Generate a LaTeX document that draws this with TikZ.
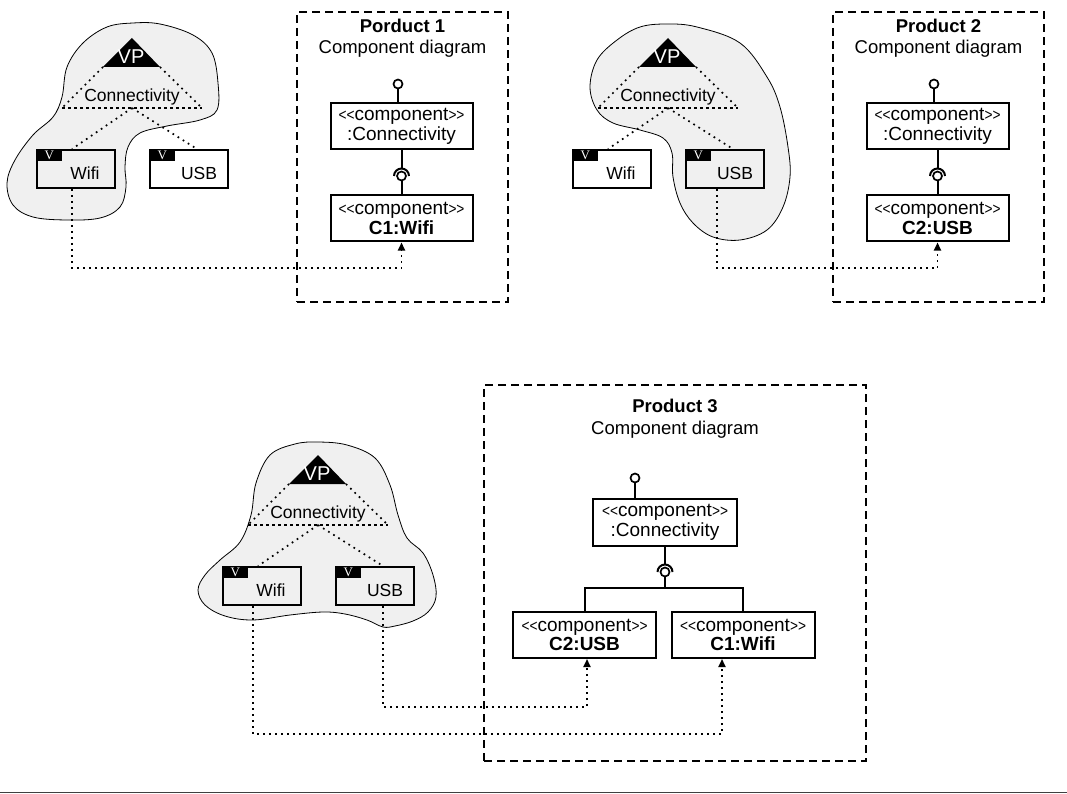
\documentclass[tikz,border=0pt]{standalone}
\usepackage{fontspec}
\setmainfont{Liberation Sans}
\newfontfamily\tagfont{Liberation Serif}
\usepackage{xcolor}
\usepackage{tikz}
\usetikzlibrary{arrows.meta, positioning}
\definecolor{blobgray}{HTML}{F0F0F0}
\newcommand{\stereo}[1]{\scalebox{0.72}[0.85]{<{}<}#1\scalebox{0.72}[0.85]{>{}>}}

\begin{document}
\begin{tikzpicture}[
  x=1pt, y=-1pt,
  pframe/.style = {draw, dash pattern=on 8pt off 5pt, line width=2pt, inner sep=0pt},
  ptitle/.style = {font=\fontsize{18.5}{20}\selectfont\bfseries},
  psub/.style = {font=\fontsize{18.5}{20}\selectfont},
  comp/.style = {
    draw, fill=white, line width=2pt, inner sep=0pt, align=center,
    minimum width=142pt, minimum height=46pt,
    font=\fontsize{19}{19.5}\selectfont
  },
  ballnode/.style = {circle, draw, fill=white, line width=1.7pt, inner sep=0pt, minimum size=9pt},
  wire/.style = {line width=2pt},
  blob/.style = {draw, fill=blobgray, line width=0.8pt},
  feat/.style = {draw, line width=2pt, inner sep=0pt, minimum width=78pt, minimum height=38pt},
  ftxt/.style = {font=\fontsize{17.5}{18}\selectfont},
  vtag/.style = {
    fill=black, text=white, inner sep=0pt, anchor=north west,
    minimum width=26pt, minimum height=12pt,
    font=\tagfont\fontsize{13}{13}\selectfont
  },
  vptxt/.style = {text=white, font=\fontsize{20}{20}\selectfont},
  fdot/.style = {line width=1.7pt, dash pattern=on 1.7pt off 4.3pt},
  fdash/.style = {line width=1.3pt, dash pattern=on 3pt off 3pt},
  dep/.style = {line width=1.8pt, dash pattern=on 1.8pt off 4.2pt, -{Triangle[length=8pt,width=7pt]}}
]
  \useasboundingbox (0,0) rectangle (1067,794);

  % variability models
  \draw[blob] plot[smooth cycle, tension=0.6] coordinates {
    (133,23) (160,24) (193,35) (212,53) (218,83) (217,110) (200,120)
    (167,126) (140,133) (128,147) (125,167) (126,187) (120,207) (100,218)
    (67,220) (33,217) (13,205) (7,183) (15,160) (33,135) (53,117)
    (62,97) (67,67) (83,43) (107,27)};
  \draw[blob] plot[smooth cycle, tension=0.6] coordinates {
    (667,24) (697,27) (740,43) (767,77) (780,107) (788,147) (790,177)
    (783,207) (767,230) (740,240) (713,237) (693,223) (680,203) (673,177)
    (672,153) (663,138) (640,130) (613,123) (597,110) (590,87) (597,60)
    (617,40) (640,27)};
  \draw[blob] plot[smooth cycle, tension=0.6] coordinates {
    (318,442) (347,445) (375,458) (390,485) (398,515) (407,538) (423,553)
    (433,575) (436,597) (428,612) (413,621) (395,626) (383,627) (367,620)
    (345,614) (323,612) (290,615) (253,620) (225,616) (205,605) (198,590)
    (205,575) (220,560) (240,542) (251,515) (256,483) (270,455) (295,444)};

  \begin{scope}
    \fill (132,38) -- (103,67) -- (160,67) -- cycle;
    \node[vptxt] (vp1) at (131,57) {VP};
    \node[ftxt] (cn1) at (132,97) {Connectivity};
    \draw[fdot] (103,67) -- (62,108);
    \draw[fdot] (160,67) -- (202,108);
    \draw[fdash] (62,108) -- (202,108);
    \coordinate (fb1) at (132,108);
    \node[feat] (w1) at (76,169) {};
    \node[vtag] (wv1) at (w1.north west) {V};
    \node[ftxt] (wt1) at ([xshift=9pt,yshift=-4pt]w1.center) {Wifi};
    \node[feat] (u1) at (189,169) {};
    \node[vtag] (uv1) at (u1.north west) {V};
    \node[ftxt] (ut1) at ([xshift=10pt,yshift=-4pt]u1.center) {USB};
    \draw[fdot] (fb1) -- ([xshift=-4pt]w1.north);
    \draw[fdot] (fb1) -- ([xshift=8pt]u1.north);
  \end{scope}

  \begin{scope}[shift={(536,0)}]
    \fill (132,38) -- (103,67) -- (160,67) -- cycle;
    \node[vptxt] (vp2) at (131,57) {VP};
    \node[ftxt] (cn2) at (132,97) {Connectivity};
    \draw[fdot] (103,67) -- (62,108);
    \draw[fdot] (160,67) -- (202,108);
    \draw[fdash] (62,108) -- (202,108);
    \coordinate (fb2) at (132,108);
    \node[feat] (w2) at (76,169) {};
    \node[vtag] (wv2) at (w2.north west) {V};
    \node[ftxt] (wt2) at ([xshift=9pt,yshift=-4pt]w2.center) {Wifi};
    \node[feat] (u2) at (189,169) {};
    \node[vtag] (uv2) at (u2.north west) {V};
    \node[ftxt] (ut2) at ([xshift=10pt,yshift=-4pt]u2.center) {USB};
    \draw[fdot] (fb2) -- ([xshift=-4pt]w2.north);
    \draw[fdot] (fb2) -- ([xshift=8pt]u2.north);
  \end{scope}

  \begin{scope}[shift={(186,417)}]
    \fill (132,38) -- (103,67) -- (160,67) -- cycle;
    \node[vptxt] (vp3) at (131,57) {VP};
    \node[ftxt] (cn3) at (132,97) {Connectivity};
    \draw[fdot] (103,67) -- (62,108);
    \draw[fdot] (160,67) -- (202,108);
    \draw[fdash] (62,108) -- (202,108);
    \coordinate (fb3) at (132,108);
    \node[feat] (w3) at (76,169) {};
    \node[vtag] (wv3) at (w3.north west) {V};
    \node[ftxt] (wt3) at ([xshift=9pt,yshift=-4pt]w3.center) {Wifi};
    \node[feat] (u3) at (189,169) {};
    \node[vtag] (uv3) at (u3.north west) {V};
    \node[ftxt] (ut3) at ([xshift=10pt,yshift=-4pt]u3.center) {USB};
    \draw[fdot] (fb3) -- ([xshift=-4pt]w3.north);
    \draw[fdot] (fb3) -- ([xshift=8pt]u3.north);
  \end{scope}

  % product 1
  \node[pframe, minimum width=211pt, minimum height=290pt] (f1) at (402.5,157) {};
  \node[ptitle] (t1) at (402.5,26) {Porduct 1};
  \node[psub] (s1) at (402.5,49) {Component diagram};
  \node[comp] (k1) at (401.5,126.5) {\stereo{component}\\:Connectivity};
  \node[comp] (c1) at (401.5,218.5) {\stereo{component}\\\textbf{C1:Wifi}};
  \node[ballnode] (b1) at (398,84) {};
  \node[ballnode] (q1) at (401.5,176) {};
  \draw[wire] (b1) -- (b1 |- k1.north);
  \draw[wire] (k1.south) -- ([yshift=7.5pt]q1.center);
  \draw[wire] ([xshift=-7.5pt]q1.center) arc[start angle=180, end angle=360, radius=7.5];
  \draw[wire] (q1) -- (c1);

  % product 2
  \node[pframe, minimum width=211pt, minimum height=290pt] (f2) at (938.5,157) {};
  \node[ptitle] (t2) at (938.5,26) {Product 2};
  \node[psub] (s2) at (938.5,49) {Component diagram};
  \node[comp] (k2) at (937.5,126.5) {\stereo{component}\\:Connectivity};
  \node[comp] (c2) at (937.5,218.5) {\stereo{component}\\\textbf{C2:USB}};
  \node[ballnode] (b2) at (934,84) {};
  \node[ballnode] (q2) at (937.5,176) {};
  \draw[wire] (b2) -- (b2 |- k2.north);
  \draw[wire] (k2.south) -- ([yshift=7.5pt]q2.center);
  \draw[wire] ([xshift=-7.5pt]q2.center) arc[start angle=180, end angle=360, radius=7.5];
  \draw[wire] (q2) -- (c2);

  % product 3
  \node[pframe, minimum width=382pt, minimum height=376pt] (f3) at (675,573) {};
  \node[ptitle] (t3) at (675,406) {Product 3};
  \node[psub] (s3) at (675,430) {Component diagram};
  \node[comp, minimum width=144pt, minimum height=47pt] (k3) at (665,522.5) {\stereo{component}\\:Connectivity};
  \node[comp, minimum width=143pt] (cu3) at (584.5,635) {\stereo{component}\\\textbf{C2:USB}};
  \node[comp, minimum width=143pt] (cw3) at (743,635) {\stereo{component}\\\textbf{C1:Wifi}};
  \node[ballnode] (b3) at (635,478) {};
  \node[ballnode] (q3) at (665,572) {};
  \coordinate (j3) at (665,588);
  \draw[wire] (b3) -- (b3 |- k3.north);
  \draw[wire] (k3.south) -- ([yshift=7.5pt]q3.center);
  \draw[wire] ([xshift=-7.5pt]q3.center) arc[start angle=180, end angle=360, radius=7.5];
  \draw[wire] (q3) -- (j3);
  \draw[wire] (j3) -| (cu3.north);
  \draw[wire] (j3) -| (cw3.north);

  % bindings
  \draw[dep] ([xshift=-4pt]w1.south) -- ++(0,79) -| (c1.south);
  \draw[dep] ([xshift=-8pt]u2.south) -- ++(0,79) -| (c2.south);
  \draw[dep] ([xshift=8pt]u3.south) -- ++(0,101) -| ([xshift=2.5pt]cu3.south);
  \draw[dep] ([xshift=-9pt]w3.south) -- ++(0,128) -| ([xshift=-21pt]cw3.south);

  \draw[black!75, line width=1pt] (0,792) -- (1067,792);
\end{tikzpicture}
\end{document}
